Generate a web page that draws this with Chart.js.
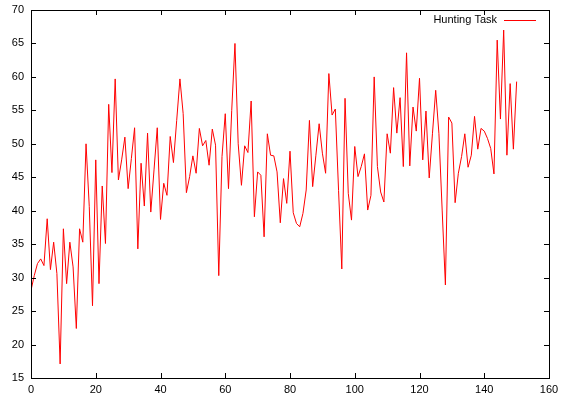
<!DOCTYPE html>
<html>
<head>
<meta charset="utf-8">
<script src="https://cdn.jsdelivr.net/npm/chart.js@4/dist/chart.umd.min.js"></script>
<style>
  html, body { margin: 0; padding: 0; background: #fff; }
</style>
</head>
<body>
<canvas id="huntChart" width="564" height="396"></canvas>
<script>
// Data (x = 0..150)
const seriesLabel = "Hunting Task";
const huntingValues = [
    28.1, 30.3, 32.1, 32.8, 31.8, 38.8, 31.2, 35.3, 30.6, 17.1,
    37.3, 29.1, 35.3, 31.6, 22.4, 37.3, 35.3, 50.0, 40.6, 25.8,
    47.6, 29.1, 43.7, 35.1, 55.9, 45.7, 59.7, 44.6, 47.6, 51.0,
    43.3, 47.8, 52.4, 34.3, 47.1, 40.7, 51.6, 39.8, 46.1, 52.4,
    38.7, 44.1, 42.3, 51.1, 47.2, 53.5, 59.7, 54.5, 42.7, 45.1,
    48.2, 45.6, 52.3, 49.7, 50.5, 46.8, 52.2, 49.8, 30.3, 48.1,
    54.5, 43.3, 55.0, 65.0, 50.0, 43.8, 49.7, 48.7, 56.4, 39.1,
    45.8, 45.3, 36.1, 51.5, 48.3, 48.2, 45.8, 38.2, 44.8, 41.1,
    48.9, 39.7, 38.1, 37.6, 39.6, 43.1, 53.5, 43.6, 48.3, 53.0,
    48.6, 45.6, 60.5, 54.3, 55.2, 43.0, 31.3, 56.8, 42.6, 38.6,
    49.6, 45.1, 46.6, 48.5, 40.1, 42.3, 60.0, 46.6, 42.8, 41.3,
    51.5, 48.6, 58.4, 51.6, 56.9, 46.6, 63.6, 46.7, 55.5, 51.9,
    59.8, 47.6, 54.9, 44.9, 51.5, 58.0, 51.5, 40.1, 28.9, 54.0,
    53.1, 41.2, 45.6, 48.1, 51.5, 46.5, 48.3, 54.1, 49.2, 52.3,
    51.9, 50.8, 49.3, 45.5, 65.5, 53.7, 67.0, 48.3, 59.0, 49.2,
    59.3
];
const xValues = huntingValues.map((v, i) => i);

// Axis ranges / tick steps
const xRange = [0, 160];
const xStep = 20;
const yRange = [15, 70];
const yStep = 5;

const axisFont = { family: "'Liberation Sans', Arial, sans-serif", size: 11 };

// gnuplot-like frame with inward ticks on all four sides, plus the key
const gnuplotFrame = {
    id: "gnuplotFrame",
    afterDatasetsDraw(chart) {
        const { ctx, chartArea: a, scales } = chart;
        ctx.save();
        ctx.strokeStyle = "#000";
        ctx.lineWidth = 1;
        ctx.strokeRect(a.left + 0.5, a.top + 0.5, a.right - a.left, a.bottom - a.top);
        const len = 5;
        ctx.beginPath();
        scales.x.ticks.forEach(t => {
            const px = Math.round(scales.x.getPixelForValue(t.value)) + 0.5;
            ctx.moveTo(px, a.bottom); ctx.lineTo(px, a.bottom - len);
            ctx.moveTo(px, a.top); ctx.lineTo(px, a.top + len);
        });
        scales.y.ticks.forEach(t => {
            const py = Math.round(scales.y.getPixelForValue(t.value)) + 0.5;
            ctx.moveTo(a.left, py); ctx.lineTo(a.left + len, py);
            ctx.moveTo(a.right, py); ctx.lineTo(a.right - len, py);
        });
        ctx.stroke();

        // Key (text then sample line, top right)
        const ky = a.top + 10;
        const lineEnd = a.right - 13;
        const lineStart = lineEnd - 32;
        ctx.font = "11px " + axisFont.family;
        ctx.fillStyle = "#000";
        ctx.textAlign = "right";
        ctx.textBaseline = "middle";
        ctx.fillText(seriesLabel, lineStart - 7, ky);
        ctx.strokeStyle = "#ff0000";
        ctx.beginPath();
        ctx.moveTo(lineStart, ky + 0.5);
        ctx.lineTo(lineEnd, ky + 0.5);
        ctx.stroke();
        ctx.restore();
    }
};

new Chart(document.getElementById("huntChart"), {
    type: "line",
    data: {
        labels: xValues,
        datasets: [{
            label: seriesLabel,
            data: xValues.map((x, i) => ({ x, y: huntingValues[i] })),
            borderColor: "#ff0000",
            borderWidth: 1,
            pointRadius: 0,
            tension: 0,
            fill: false
        }]
    },
    options: {
        responsive: false,
        animation: false,
        layout: { padding: { top: 10, right: 15, left: 0, bottom: 0 } },
        plugins: {
            legend: { display: false },
            tooltip: { enabled: false }
        },
        scales: {
            x: {
                type: "linear",
                min: xRange[0],
                max: xRange[1],
                grid: { display: false, drawTicks: false },
                border: { display: false },
                ticks: { stepSize: xStep, color: "#000", font: axisFont, padding: 5, maxRotation: 0 },
                afterFit: s => { s.height = 18; s.paddingLeft = 0; s.paddingRight = 0; }
            },
            y: {
                min: yRange[0],
                max: yRange[1],
                grid: { display: false, drawTicks: false },
                border: { display: false },
                ticks: { stepSize: yStep, color: "#000", font: axisFont, padding: 7 },
                afterFit: s => { s.width = 31; s.paddingTop = 0; s.paddingBottom = 0; }
            }
        }
    },
    plugins: [gnuplotFrame]
});
</script>
</body>
</html>
